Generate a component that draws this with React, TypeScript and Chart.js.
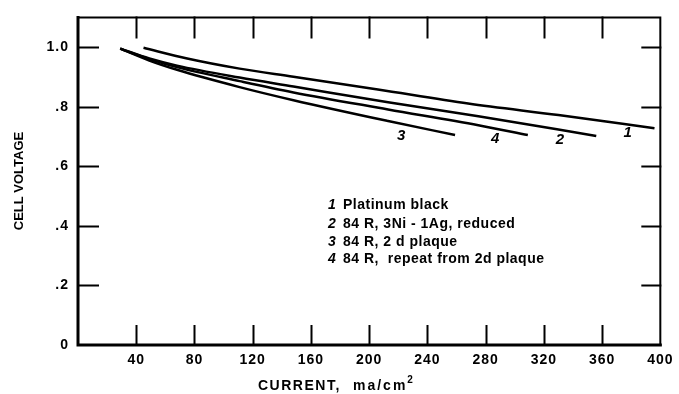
import React, { useEffect, useRef } from "react";
import { Chart, registerables } from "chart.js";

Chart.register(...registerables);

const xTickValues = [0, 40, 80, 120, 160, 200, 240, 280, 320, 360, 400];
const yTickValues = [0, 0.2, 0.4, 0.6, 0.8, 1.0];

// Curve 1: Platinum black
const curve1X = [45, 75, 111, 148, 206, 268, 330, 396];
const curve1Y = [0.998, 0.962, 0.928, 0.901, 0.858, 0.811, 0.772, 0.728];
// Curve 2: 84R, 3Ni-1Ag, reduced
const curve2X = [29, 49, 68, 111, 148, 213, 275, 356];
const curve2Y = [0.995, 0.962, 0.938, 0.898, 0.868, 0.815, 0.768, 0.702];
// Curve 3: 84R, 2d plaque
const curve3X = [29, 49, 68, 111, 148, 213, 259];
const curve3Y = [0.995, 0.955, 0.924, 0.866, 0.822, 0.752, 0.705];
// Curve 4: 84R, repeat from 2d plaque
const curve4X = [29, 49, 68, 111, 148, 213, 275, 309];
const curve4Y = [0.995, 0.96, 0.933, 0.886, 0.848, 0.791, 0.738, 0.705];

const curveNumbers = ["1", "2", "3", "4"];
const legendLines = [
  "Platinum black",
  "84 R, 3Ni - 1Ag, reduced",
  "84 R, 2 d plaque",
  "84 R,  repeat from 2d plaque",
];

const toPoints = (xs: number[], ys: number[]) => xs.map((x, i) => ({ x, y: ys[i] }));

const FONT = "'Liberation Sans', Arial, sans-serif";

export default function App() {
  const ref = useRef<HTMLCanvasElement | null>(null);

  useEffect(() => {
    document.body.style.margin = "0";
    const canvas = ref.current;
    if (!canvas) return;

    const overlay = {
      id: "overlay",
      beforeDraw(chart: any) {
        (chart.ctx as any).letterSpacing = "1px";
      },
      afterDraw(chart: any) {
        const ctx = chart.ctx as CanvasRenderingContext2D & { letterSpacing?: string };
        const xs = chart.scales.x;
        const ys = chart.scales.y;
        const { left, right, top, bottom } = chart.chartArea;
        ctx.save();
        ctx.strokeStyle = "#000";
        ctx.lineCap = "square";
        // frame
        ctx.lineWidth = 3;
        ctx.beginPath();
        ctx.moveTo(left, top);
        ctx.lineTo(left, bottom);
        ctx.lineTo(right, bottom);
        ctx.stroke();
        ctx.lineWidth = 2;
        ctx.beginPath();
        ctx.moveTo(left, top);
        ctx.lineTo(right, top);
        ctx.lineTo(right, bottom);
        ctx.stroke();
        // inward tick marks
        ctx.lineWidth = 2;
        ctx.beginPath();
        xTickValues.forEach((v) => {
          if (v === 0 || v === 400) return;
          const px = Math.round(xs.getPixelForValue(v)) + 0.5;
          ctx.moveTo(px, bottom);
          ctx.lineTo(px, bottom - 19);
          ctx.moveTo(px, top);
          ctx.lineTo(px, top + 20);
        });
        yTickValues.forEach((v) => {
          if (v === 0) return;
          const py = Math.round(ys.getPixelForValue(v)) + 0.5;
          ctx.moveTo(left, py);
          ctx.lineTo(left + 20, py);
          ctx.moveTo(right, py);
          ctx.lineTo(right - 18, py);
        });
        ctx.stroke();

        ctx.fillStyle = "#000";
        // curve number labels
        ctx.letterSpacing = "0px";
        ctx.font = `italic bold 15px ${FONT}`;
        ctx.textAlign = "center";
        ctx.textBaseline = "middle";
        const lblPos = [
          [377.5, 0.712],
          [331, 0.69],
          [222, 0.702],
          [286.5, 0.692],
        ];
        lblPos.forEach((p, i) => {
          ctx.fillText(curveNumbers[i], xs.getPixelForValue(p[0]), ys.getPixelForValue(p[1]));
        });

        // legend text block
        const legendTop = [0.47, 0.405, 0.345, 0.288];
        legendLines.forEach((t, i) => {
          const y = ys.getPixelForValue(legendTop[i]);
          ctx.letterSpacing = "0px";
          ctx.font = `italic bold 14px ${FONT}`;
          ctx.textAlign = "center";
          ctx.fillText(curveNumbers[i], 332, y);
          ctx.letterSpacing = "0.5px";
          ctx.font = `bold 14px ${FONT}`;
          ctx.textAlign = "left";
          ctx.fillText(t, 343, y);
        });

        // y axis title
        ctx.save();
        ctx.translate(19, 181);
        ctx.rotate(-Math.PI / 2);
        ctx.letterSpacing = "0px";
        ctx.font = `bold 13px ${FONT}`;
        ctx.textAlign = "center";
        ctx.textBaseline = "middle";
        ctx.fillText("CELL VOLTAGE", 0, 0);
        ctx.restore();

        // x axis title with superscript
        ctx.textAlign = "left";
        ctx.textBaseline = "alphabetic";
        ctx.letterSpacing = "1.5px";
        ctx.font = `bold 14px ${FONT}`;
        const base = 390;
        ctx.fillText("CURRENT,", 258, base);
        let x = 353;
        const part2 = "ma/cm";
        ctx.letterSpacing = "2px";
        ctx.fillText(part2, x, base);
        x += ctx.measureText(part2).width;
        ctx.letterSpacing = "0px";
        ctx.font = `bold 10px ${FONT}`;
        ctx.fillText("2", x, base - 7);
        ctx.restore();
      },
    };

    const chart = new Chart(canvas, {
      type: "scatter",
      data: {
        datasets: [
          { label: legendLines[0], data: toPoints(curve1X, curve1Y) },
          { label: legendLines[1], data: toPoints(curve2X, curve2Y) },
          { label: legendLines[2], data: toPoints(curve3X, curve3Y) },
          { label: legendLines[3], data: toPoints(curve4X, curve4Y) },
        ].map((d) => ({
          ...d,
          showLine: true,
          borderColor: "#000",
          backgroundColor: "#000",
          borderWidth: 2.5,
          pointRadius: 0,
          cubicInterpolationMode: "monotone" as const,
        })),
      },
      options: {
        responsive: false,
        animation: false,
        layout: { padding: { top: 13, right: 16, left: 0, bottom: 0 } },
        plugins: {
          legend: { display: false },
          tooltip: { enabled: false },
        },
        scales: {
          x: {
            type: "linear",
            min: 0,
            max: 400,
            grid: { display: false, drawTicks: false },
            border: { display: false },
            afterBuildTicks: (s: any) => {
              s.ticks = xTickValues.filter((v) => v !== 0).map((v) => ({ value: v }));
            },
            afterFit: (s: any) => {
              s.height = 49;
            },
            ticks: {
              padding: 7,
              color: "#000",
              font: { family: FONT, size: 14, weight: "bold" },
              maxRotation: 0,
              autoSkip: false,
            },
          },
          y: {
            type: "linear",
            min: 0,
            max: 1.1,
            grid: { display: false, drawTicks: false },
            border: { display: false },
            afterBuildTicks: (s: any) => {
              s.ticks = yTickValues.map((v) => ({ value: v }));
            },
            afterFit: (s: any) => {
              s.width = 78;
            },
            ticks: {
              padding: 9,
              color: "#000",
              font: { family: FONT, size: 14, weight: "bold" },
              callback: (v: any) => {
                const n = Number(v);
                if (n === 0) return "0";
                if (Math.abs(n - 1) < 1e-9) return "1.0";
                return "." + Math.round(n * 10);
              },
            },
          },
        },
      },
      plugins: [overlay],
    });
    return () => chart.destroy();
  }, []);

  return (
    <div style={{ width: 679, height: 394, background: "#fff" }}>
      <canvas ref={ref} width={679} height={394} style={{ display: "block" }} />
    </div>
  );
}
